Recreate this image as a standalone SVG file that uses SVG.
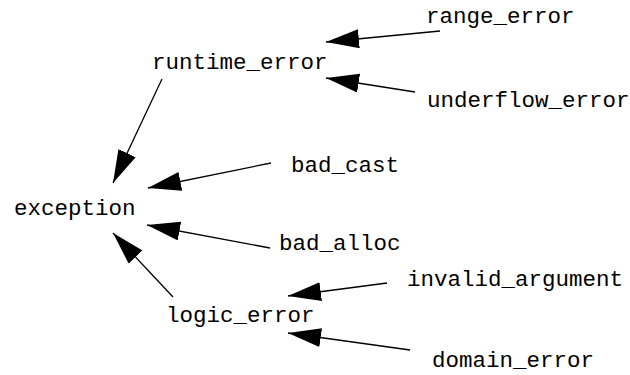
<svg xmlns="http://www.w3.org/2000/svg" width="630" height="375" viewBox="0 0 630 375">
<style>
text{font-family:"Liberation Mono","Courier New",monospace;font-size:22.5px;fill:#000}
.e{stroke:#000;stroke-width:1.3;fill:none;marker-end:url(#ah)}
</style>
<defs>
<marker id="ah" markerUnits="userSpaceOnUse" markerWidth="34" markerHeight="20" refX="33" refY="9.5" orient="auto">
<path d="M0,0 L33,9.5 L0,19 Z" fill="#000"/>
</marker>
</defs>
<rect width="630" height="375" fill="#fff"/>
<g id="connectors">
<line class="e" x1="440" y1="31" x2="326" y2="42"/>
<line class="e" x1="415" y1="92" x2="326" y2="78"/>
<line class="e" x1="162" y1="79" x2="113" y2="183"/>
<line class="e" x1="271" y1="163" x2="148" y2="188"/>
<line class="e" x1="270" y1="248" x2="147" y2="225"/>
<line class="e" x1="173" y1="297" x2="113" y2="233"/>
<line class="e" x1="387" y1="283" x2="288" y2="296"/>
<line class="e" x1="410" y1="350" x2="288" y2="333"/>
</g>
<g id="range_error"><text x="426" y="23">range_error</text></g>
<g id="runtime_error"><text x="152" y="69">runtime_error</text></g>
<g id="underflow_error"><text x="427" y="107">underflow_error</text></g>
<g id="bad_cast"><text x="291" y="172">bad_cast</text></g>
<g id="exception"><text x="14" y="215">exception</text></g>
<g id="bad_alloc"><text x="279" y="250">bad_alloc</text></g>
<g id="invalid_argument"><text x="407" y="286">invalid_argument</text></g>
<g id="logic_error"><text x="166" y="322">logic_error</text></g>
<g id="domain_error"><text x="432" y="367">domain_error</text></g>
</svg>
